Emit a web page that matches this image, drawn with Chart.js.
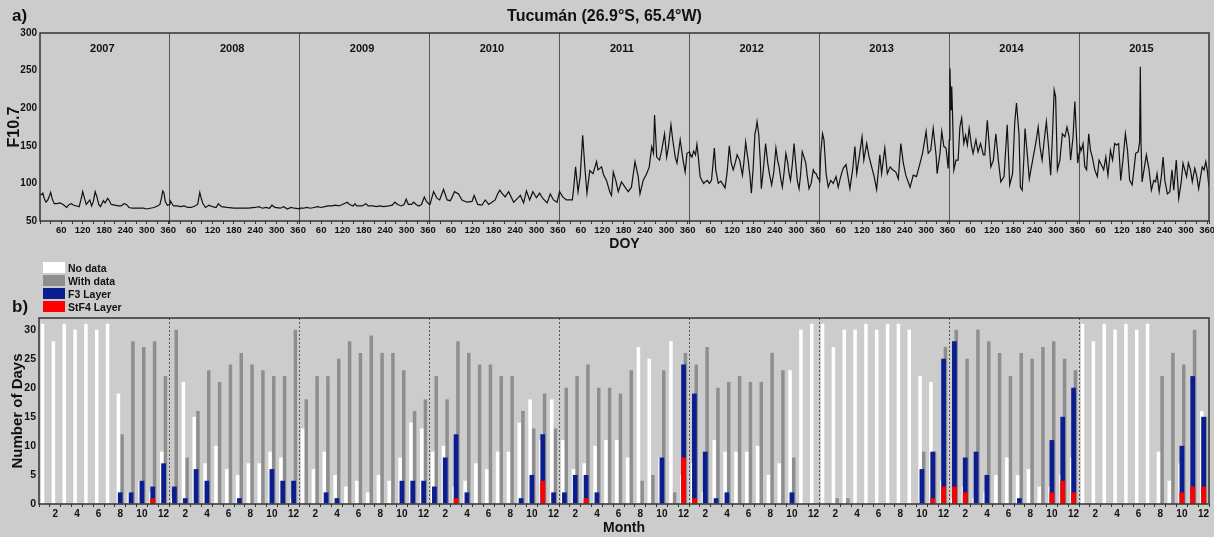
<!DOCTYPE html>
<html>
<head>
<meta charset="utf-8">
<script src="https://cdn.jsdelivr.net/npm/chart.js@4.4.1/dist/chart.umd.min.js"></script>
<style>
  body { margin: 0; background: #cccccc; font-family: "Liberation Sans", Arial, sans-serif; }
  #wrap { position: relative; width: 1214px; height: 537px; overflow: hidden; background: #cccccc; }
  #cTop { position: absolute; left: 0; top: 0; }
  #cBot { position: absolute; left: 0; top: 256px; }
  .tag { position: absolute; font-weight: bold; font-size: 17px; color: #111; }
  #legend { position: absolute; left: 43px; top: 261px; }
  .lg { height: 13px; display: flex; align-items: center; font-weight: bold; font-size: 10.5px; color: #111; }
  .lg .box { width: 22px; height: 10.5px; margin-right: 3px; }
</style>
</head>
<body>
<div id="wrap">
  <canvas id="cTop" width="1214" height="256"></canvas>
  <canvas id="cBot" width="1214" height="281"></canvas>
  <div class="tag" style="left:12px; top:6px;">a)</div>
  <div class="tag" style="left:12px; top:297px;">b)</div>
  <div id="legend"></div>
</div>
<script>
// ---- panel a) F10.7 , [doy, value]
var years = ['2007', '2008', '2009', '2010', '2011', '2012', '2013', '2014', '2015'];

var f107_2007 = [[1,86],[5,85],[8,87],[12,80],[17,75],[22,78],[27,84],[30,88],[34,80],[40,73],[48,73],[56,74],[65,72],[75,68],[82,72],[88,73],[95,71],[103,70],[110,69],[115,78],[120,89],[125,80],[130,72],[135,75],[140,78],[145,70],[150,76],[155,89],[160,82],[165,72],[170,69],[178,77],[183,74],[190,80],[195,77],[200,72],[210,71],[220,70],[228,70],[236,73],[243,72],[250,68],[260,67],[270,67],[280,67],[290,67],[300,66],[310,67],[320,68],[330,70],[337,72],[341,80],[345,90],[348,88],[352,76],[358,71],[365,72]];
var f107_2008 = [[1,77],[5,74],[10,70],[20,70],[30,69],[40,70],[50,68],[60,68],[70,70],[78,72],[84,88],[87,82],[92,74],[100,68],[110,71],[120,69],[130,68],[136,73],[145,69],[160,68],[180,67],[200,67],[220,67],[240,68],[250,69],[260,67],[270,68],[280,67],[287,71],[295,68],[310,67],[320,69],[330,66],[340,68],[350,67],[365,66]];
var f107_2009 = [[1,67],[10,67],[20,68],[30,67],[40,68],[50,69],[60,68],[70,69],[80,70],[90,70],[100,71],[110,70],[120,72],[133,75],[140,72],[150,70],[155,73],[160,70],[175,70],[186,73],[192,70],[205,70],[215,69],[225,70],[235,69],[250,70],[260,71],[267,75],[275,72],[285,70],[293,72],[299,79],[305,72],[314,72],[320,75],[327,72],[334,70],[342,72],[350,82],[356,76],[362,73],[365,72]];
var f107_2010 = [[1,72],[11,89],[21,80],[28,78],[39,92],[49,78],[58,77],[70,89],[81,86],[91,78],[105,75],[119,76],[125,84],[135,72],[147,71],[156,78],[166,72],[175,75],[184,78],[191,86],[197,91],[203,87],[212,82],[222,89],[236,75],[247,80],[255,84],[264,74],[272,90],[281,78],[290,89],[300,81],[309,87],[318,80],[330,74],[339,86],[348,78],[358,75],[365,89]];
var f107_2011 = [[1,89],[9,82],[19,78],[28,78],[36,78],[40,95],[45,122],[52,89],[58,109],[65,164],[71,122],[77,87],[85,117],[94,113],[104,129],[108,118],[118,122],[124,111],[132,104],[141,89],[146,84],[151,115],[158,104],[165,89],[174,102],[184,95],[193,89],[202,95],[212,129],[221,109],[226,86],[235,104],[245,113],[252,122],[259,149],[264,140],[267,191],[273,135],[281,131],[287,144],[295,166],[301,135],[306,149],[313,178],[318,158],[325,135],[330,127],[339,158],[347,131],[353,115],[358,140],[365,142]];
var f107_2012 = [[1,140],[7,135],[12,143],[17,138],[21,152],[25,135],[30,109],[35,104],[40,100],[44,102],[50,104],[56,100],[62,104],[66,125],[70,147],[74,118],[81,100],[88,103],[95,98],[100,94],[106,115],[112,150],[117,128],[123,118],[129,128],[134,138],[141,131],[149,111],[153,128],[158,155],[162,140],[165,131],[170,110],[174,87],[179,120],[184,166],[187,172],[190,182],[195,164],[199,130],[202,93],[207,115],[214,153],[220,127],[225,112],[231,98],[237,115],[243,147],[248,130],[252,122],[257,105],[261,95],[266,115],[271,140],[276,128],[280,113],[284,104],[289,125],[294,153],[298,130],[303,104],[308,93],[312,110],[317,142],[322,135],[327,127],[331,110],[336,93],[342,100],[348,118],[352,114],[356,113],[360,108],[365,105]];
var f107_2013 = [[1,101],[4,140],[9,166],[13,158],[19,113],[25,95],[32,104],[39,100],[47,109],[53,95],[60,109],[67,120],[75,125],[86,93],[94,120],[100,149],[105,113],[112,135],[120,162],[125,131],[133,153],[140,135],[147,122],[154,109],[161,92],[170,138],[175,113],[184,147],[191,113],[199,122],[206,118],[215,115],[222,106],[229,153],[236,127],[243,111],[255,95],[264,111],[273,109],[283,127],[290,140],[300,169],[306,140],[313,144],[320,173],[328,138],[331,113],[339,140],[344,169],[350,149],[356,147],[362,120],[365,158]];
var f107_2014 = [[2,253],[5,198],[7,229],[9,198],[13,118],[19,131],[25,131],[30,175],[35,187],[41,153],[46,164],[51,151],[56,173],[63,149],[67,140],[75,158],[81,142],[88,153],[96,138],[100,138],[107,184],[112,153],[117,122],[124,131],[131,166],[138,131],[145,102],[154,109],[163,178],[170,98],[178,113],[184,180],[189,207],[196,166],[200,95],[205,91],[210,135],[213,173],[220,135],[225,106],[231,122],[236,135],[243,153],[250,175],[255,149],[261,131],[269,166],[273,182],[280,144],[285,111],[290,162],[295,224],[299,215],[304,118],[311,131],[318,166],[325,162],[331,175],[337,162],[341,131],[348,162],[353,209],[358,158],[361,127],[365,140]];
var f107_2015 = [[2,149],[6,144],[11,153],[16,122],[21,118],[27,166],[32,144],[37,135],[44,118],[51,109],[56,131],[63,124],[69,118],[75,135],[81,111],[88,144],[94,131],[100,153],[105,151],[111,153],[117,104],[124,135],[130,166],[136,144],[142,104],[149,98],[154,118],[159,140],[166,142],[170,155],[172,255],[174,153],[177,102],[183,120],[189,138],[196,120],[203,91],[210,104],[215,102],[219,113],[225,89],[231,109],[236,135],[241,104],[248,86],[255,89],[261,118],[266,91],[273,131],[280,80],[287,102],[292,127],[297,118],[302,109],[307,127],[313,118],[318,102],[325,120],[330,111],[336,93],[342,111],[346,122],[351,118],[356,129],[360,118],[365,95]];

var f107ByYear = [f107_2007, f107_2008, f107_2009, f107_2010, f107_2011, f107_2012, f107_2013, f107_2014, f107_2015];

// ---- panel b) days per month, 2007..2015
var monthNames = [1, 2, 3, 4, 5, 6, 7, 8, 9, 10, 11, 12];
var noData = [
  31, 28, 31, 30, 31, 30, 31, 19, 2, 4, 2, 9,
  1, 21, 15, 7, 10, 6, 5, 7, 7, 9, 8, 1,
  13, 6, 9, 5, 3, 4, 2, 5, 4, 8, 14, 13,
  9, 10, 3, 4, 7, 6, 9, 9, 14, 18, 11, 18,
  11, 6, 7, 10, 11, 11, 8, 27, 25, 8, 28, 5,
  7, 2, 11, 9, 9, 9, 10, 5, 7, 23, 30, 31,
  31, 27, 30, 30, 31, 30, 31, 31, 30, 22, 21, 4,
  1, 3, 1, 2, 5, 8, 5, 6, 3, 3, 5, 8,
  31, 28, 31, 30, 31, 30, 31, 9, 4, 7, 0, 16
];
var withData = [
  0, 0, 0, 0, 0, 0, 0, 12, 28, 27, 28, 22,
  30, 8, 16, 23, 21, 24, 26, 24, 23, 22, 22, 30,
  18, 22, 22, 25, 28, 26, 29, 26, 26, 23, 16, 18,
  22, 18, 28, 26, 24, 24, 22, 22, 16, 13, 19, 13,
  20, 22, 24, 20, 20, 19, 23, 4, 5, 23, 2, 26,
  24, 27, 20, 21, 22, 21, 21, 26, 23, 8, 0, 0,
  0, 1, 1, 0, 0, 0, 0, 0, 0, 9, 9, 27,
  30, 25, 30, 28, 26, 22, 26, 25, 27, 28, 25, 23,
  0, 0, 0, 0, 0, 0, 0, 22, 26, 24, 30, 15
];
var f3Layer = [
  0, 0, 0, 0, 0, 0, 0, 2, 2, 4, 3, 7,
  3, 1, 6, 4, 0, 0, 1, 0, 0, 6, 4, 4,
  0, 0, 2, 1, 0, 0, 0, 0, 0, 4, 4, 4,
  3, 8, 12, 2, 0, 0, 0, 0, 1, 5, 12, 2,
  2, 5, 5, 2, 0, 0, 0, 0, 0, 8, 0, 24,
  19, 9, 1, 2, 0, 0, 0, 0, 0, 2, 0, 0,
  0, 0, 0, 0, 0, 0, 0, 0, 0, 6, 9, 25,
  28, 8, 9, 5, 0, 0, 1, 0, 0, 11, 15, 20,
  0, 0, 0, 0, 0, 0, 0, 0, 0, 10, 22, 15
];
var stf4Layer = [
  0, 0, 0, 0, 0, 0, 0, 0, 0, 0, 1, 0,
  0, 0, 0, 0, 0, 0, 0, 0, 0, 0, 0, 0,
  0, 0, 0, 0, 0, 0, 0, 0, 0, 0, 0, 0,
  0, 0, 1, 0, 0, 0, 0, 0, 0, 0, 4, 0,
  0, 0, 1, 0, 0, 0, 0, 0, 0, 0, 0, 8,
  1, 0, 0, 0, 0, 0, 0, 0, 0, 0, 0, 0,
  0, 0, 0, 0, 0, 0, 0, 0, 0, 0, 1, 3,
  3, 2, 0, 0, 0, 0, 0, 0, 0, 2, 4, 2,
  0, 0, 0, 0, 0, 0, 0, 0, 0, 2, 3, 3
];

var colNoData = '#ffffff';
var colWithData = '#8e8e8e';
var colF3 = '#0b1e8f';
var colStF4 = '#ff0000';

var FONT = '"Liberation Sans", Arial, sans-serif';
Chart.defaults.font.family = FONT;
Chart.defaults.font.weight = 'bold';
Chart.defaults.color = '#111';

// box round the plot area
var frame = {
  id: 'frame',
  afterDraw: function (chart) {
    var a = chart.chartArea, ctx = chart.ctx;
    ctx.save();
    ctx.strokeStyle = '#333';
    ctx.lineWidth = 1.5;
    ctx.strokeRect(a.left, a.top, a.right - a.left, a.bottom - a.top);
    ctx.restore();
  }
};

// year names inside the top panel
var yearLabels = {
  id: 'yearLabels',
  afterDatasetsDraw: function (chart) {
    var xs = chart.scales.x, ctx = chart.ctx, a = chart.chartArea;
    ctx.save();
    ctx.font = 'bold 11px ' + FONT;
    ctx.fillStyle = '#111';
    ctx.textAlign = 'center';
    ctx.textBaseline = 'middle';
    years.forEach(function (y, k) {
      ctx.fillText(y, xs.getPixelForValue(k * 365 + 175), a.top + 16);
    });
    ctx.restore();
  }
};

function buildTopPoints() {
  var pts = [];
  f107ByYear.forEach(function (yr, k) {
    yr.forEach(function (p) {
      pts.push({ x: k * 365 + p[0], y: p[1] });
    });
  });
  return pts;
}

function buildTopChart() {
  var xMax = years.length * 365;
  new Chart(document.getElementById('cTop'), {
    type: 'line',
    data: {
      datasets: [{
        label: 'F10.7',
        data: buildTopPoints(),
        borderColor: '#111',
        borderWidth: 1.2,
        pointRadius: 0,
        tension: 0
      }]
    },
    options: {
      responsive: false,
      animation: false,
      layout: { padding: { left: 0, right: 5, top: 0, bottom: 0 } },
      plugins: {
        legend: { display: false },
        tooltip: { enabled: false },
        title: {
          display: true,
          text: 'Tucumán (26.9°S, 65.4°W)',
          font: { size: 16, weight: 'bold' },
          color: '#111',
          padding: { top: 7, bottom: 6.8 }
        }
      },
      scales: {
        x: {
          type: 'linear',
          min: 0,
          max: xMax,
          afterBuildTicks: function (scale) {
            var t = [];
            for (var k = 0; k < years.length; k++) {
              for (var d = 0; d <= 360; d += 30) t.push({ value: k * 365 + d });
            }
            t.push({ value: xMax });
            scale.ticks = t;
          },
          afterFit: function (scale) { scale.height = 35; },
          ticks: {
            autoSkip: false,
            maxRotation: 0,
            padding: 1,
            font: { size: 9.5, weight: 'bold' },
            callback: function (value) {
              var d = value % 365;
              return (d > 0 && d % 60 === 0) ? String(d) : '';
            }
          },
          grid: {
            drawOnChartArea: true,
            tickLength: 3,
            tickColor: '#333',
            color: function (ctx) {
              var v = ctx.tick ? ctx.tick.value : 0;
              return (v > 0 && v < xMax && v % 365 === 0) ? '#555' : 'rgba(0,0,0,0)';
            }
          },
          border: { display: false },
          title: {
            display: true,
            text: 'DOY',
            font: { size: 14, weight: 'bold' },
            padding: { top: 0, bottom: 3 }
          }
        },
        y: {
          min: 50,
          max: 300,
          afterFit: function (scale) { scale.width = 40; },
          ticks: { stepSize: 50, padding: 3, font: { size: 10, weight: 'bold' } },
          grid: { drawOnChartArea: false, drawTicks: false },
          border: { display: false },
          title: {
            display: true,
            text: 'F10.7',
            font: { size: 16, weight: 'bold' },
            padding: { top: 4.5, bottom: 0 }
          }
        }
      }
    },
    plugins: [frame, yearLabels]
  });
}

function buildLegend() {
  var items = [
    ['No data', colNoData],
    ['With data', colWithData],
    ['F3 Layer', colF3],
    ['StF4 Layer', colStF4]
  ];
  var html = '';
  items.forEach(function (it) {
    html += '<div class="lg"><span class="box" style="background:' + it[1] + '"></span>' + it[0] + '</div>';
  });
  document.getElementById('legend').innerHTML = html;
}

function buildBottomChart() {
  var monthLabels = [];
  years.forEach(function () {
    monthNames.forEach(function (m) { monthLabels.push(m); });
  });

  new Chart(document.getElementById('cBot'), {
    type: 'bar',
    data: {
      labels: monthLabels,
      datasets: [
        { label: 'No data', data: noData, backgroundColor: colNoData, stack: 'nd', order: 1,
          categoryPercentage: 0.68, barPercentage: 0.95 },
        { label: 'With data', data: withData, backgroundColor: colWithData, stack: 'wd', order: 2,
          categoryPercentage: 0.68, barPercentage: 0.95 },
        // layer counts sit centred over the month, not in a group slot
        { label: 'F3 Layer', data: f3Layer, backgroundColor: colF3, grouped: false, order: 0,
          categoryPercentage: 0.44, barPercentage: 1 },
        { label: 'StF4 Layer', data: stf4Layer, backgroundColor: colStF4, grouped: false, order: -1,
          categoryPercentage: 0.44, barPercentage: 1 }
      ]
    },
    options: {
      responsive: false,
      animation: false,
      layout: { padding: { left: 0, right: 5, top: 62, bottom: 0 } },
      plugins: {
        legend: { display: false },
        tooltip: { enabled: false }
      },
      scales: {
        x: {
          type: 'category',
          offset: true,
          afterFit: function (scale) { scale.height = 33; },
          ticks: {
            autoSkip: false,
            maxRotation: 0,
            padding: 1,
            font: { size: 10, weight: 'bold' },
            callback: function (val, i) {
              var m = monthLabels[i];
              return m % 2 === 0 ? String(m) : '';
            }
          },
          grid: {
            offset: true,
            tickLength: 3,
            tickColor: '#333',
            color: function (ctx) {
              var i = ctx.index;
              return (i > 0 && i < monthLabels.length && monthLabels[i] === 1) ? '#555' : 'rgba(0,0,0,0)';
            }
          },
          border: { display: false, dash: [2, 2] },
          title: {
            display: true,
            text: 'Month',
            font: { size: 14, weight: 'bold' },
            padding: { top: 0, bottom: 0.5 }
          }
        },
        y: {
          min: 0,
          max: 32,
          stacked: false,
          afterFit: function (scale) { scale.width = 39; },
          ticks: { stepSize: 5, includeBounds: false, padding: 3, font: { size: 10.5, weight: 'bold' } },
          grid: { drawOnChartArea: false, drawTicks: false },
          border: { display: false },
          title: {
            display: true,
            text: 'Number of Days',
            font: { size: 15, weight: 'bold' },
            padding: { top: 8.5, bottom: 0 }
          }
        }
      }
    },
    plugins: [frame]
  });
}

buildTopChart();
buildLegend();
buildBottomChart();
</script>
</body>
</html>
